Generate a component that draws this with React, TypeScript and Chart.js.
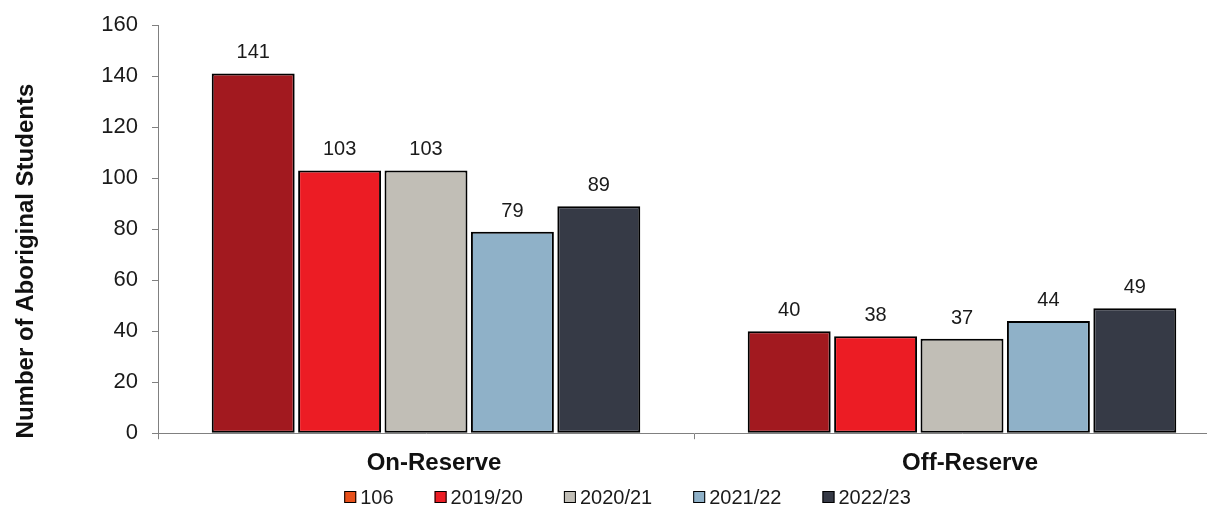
import React, { useEffect, useRef } from "react";
import { Chart, registerables } from "chart.js";

Chart.register(...registerables);

const categories = ["On-Reserve", "Off-Reserve"];
const seriesNames = ["106", "2019/20", "2020/21", "2021/22", "2022/23"];
const series106 = [141, 40];
const series2019 = [103, 38];
const series2020 = [103, 37];
const series2021 = [79, 44];
const series2022 = [89, 49];
const yTicks = [0, 20, 40, 60, 80, 100, 120, 140, 160];
const yTitle = "Number of Aboriginal Students";

const barColors = ["#A2191F", "#EC1C24", "#C1BEB6", "#8FB1C8", "#363A46"];
const legendColors = ["#E8501A", "#EC1C24", "#C1BEB6", "#8FB1C8", "#363A46"];
const FONT = "'Liberation Sans', Arial, sans-serif";

const valueLabels = {
  id: "valueLabels",
  afterDatasetsDraw(chart: any) {
    const ctx = chart.ctx;
    ctx.save();
    ctx.font = `20px ${FONT}`;
    ctx.fillStyle = "#1a1a1a";
    ctx.textAlign = "center";
    ctx.textBaseline = "alphabetic";
    chart.data.datasets.forEach((ds: any, i: number) => {
      const meta = chart.getDatasetMeta(i);
      meta.data.forEach((bar: any, j: number) => {
        ctx.fillText(String(ds.data[j]), bar.x, bar.y - 15);
      });
    });
    ctx.restore();
  },
};

const yTitlePlugin = {
  id: "yTitlePlugin",
  afterDraw(chart: any) {
    const ctx = chart.ctx;
    const area = chart.chartArea;
    ctx.save();
    ctx.translate(25, (area.top + area.bottom) / 2 + 32);
    ctx.rotate(-Math.PI / 2);
    ctx.font = `bold 24px ${FONT}`;
    ctx.fillStyle = "#111";
    ctx.textAlign = "center";
    ctx.textBaseline = "alphabetic";
    ctx.fillText(yTitle, 0, 0);
    ctx.restore();
  },
};

const customLegend = {
  id: "customLegend",
  afterDraw(chart: any) {
    const ctx = chart.ctx;
    ctx.save();
    ctx.font = `20px ${FONT}`;
    const box = 12;
    const gap = 4;
    const spacing = 41;
    const widths = seriesNames.map((t) => ctx.measureText(t).width);
    const total =
      widths.reduce((a, b) => a + b, 0) +
      seriesNames.length * (box + gap) +
      (seriesNames.length - 1) * spacing;
    let x = 619.5 - total / 2;
    const cy = chart.height - 17;
    ctx.textBaseline = "middle";
    ctx.textAlign = "left";
    seriesNames.forEach((t, i) => {
      ctx.fillStyle = legendColors[i];
      ctx.fillRect(x, cy - box / 2, box, box);
      ctx.strokeStyle = "#000";
      ctx.lineWidth = 1;
      ctx.strokeRect(x + 0.5, cy - box / 2 + 0.5, box - 1, box - 1);
      ctx.fillStyle = "#1a1a1a";
      ctx.fillText(t, x + box + gap, cy + 1);
      x += box + gap + widths[i] + spacing;
    });
    ctx.restore();
  },
};

export default function App() {
  const ref = useRef<HTMLCanvasElement>(null);
  useEffect(() => {
    if (!ref.current) return;
    const all = [series106, series2019, series2020, series2021, series2022];
    const chart = new Chart(ref.current, {
      type: "bar",
      data: {
        labels: categories,
        datasets: all.map((d, i) => ({
          label: seriesNames[i],
          data: d,
          backgroundColor: barColors[i],
          borderColor: "#000",
          borderWidth: 2,
          borderSkipped: false,
          categoryPercentage: 0.806,
          barPercentage: 0.96,
        })),
      },
      options: {
        animation: false,
        responsive: false,
        maintainAspectRatio: false,
        layout: { padding: { top: 17, right: 10, left: 0, bottom: 26 } },
        plugins: {
          tooltip: { enabled: false },
          legend: { display: false },
        },
        scales: {
          x: {
            grid: {
              display: true,
              drawOnChartArea: false,
              drawTicks: true,
              tickLength: 6,
              offset: true,
              color: "#808080",
            },
            border: { color: "#808080", width: 1 },
            ticks: {
              font: { family: FONT, size: 24, weight: "bold" },
              color: "#111",
              padding: 10,
              labelOffset: 8,
            },
          },
          y: {
            min: 0,
            max: 160,
            afterBuildTicks: (s: any) => {
              s.ticks = yTicks.map((v) => ({ value: v }));
            },
            grid: {
              display: true,
              drawOnChartArea: false,
              drawTicks: true,
              tickLength: 6,
              color: "#808080",
            },
            border: { color: "#808080", width: 1 },
            ticks: {
              font: { family: FONT, size: 22 },
              color: "#1a1a1a",
              padding: 14,
            },
            afterFit: (s: any) => {
              s.width = 150;
              s.paddingTop = 0;
              s.paddingBottom = 0;
            },
          },
        },
      },
      plugins: [valueLabels, yTitlePlugin, customLegend],
    });
    return () => chart.destroy();
  }, []);

  return (
    <div style={{ width: 1207, height: 506, overflow: "hidden" }}>
      <canvas ref={ref} width={1232} height={506} style={{ display: "block" }} />
    </div>
  );
}
